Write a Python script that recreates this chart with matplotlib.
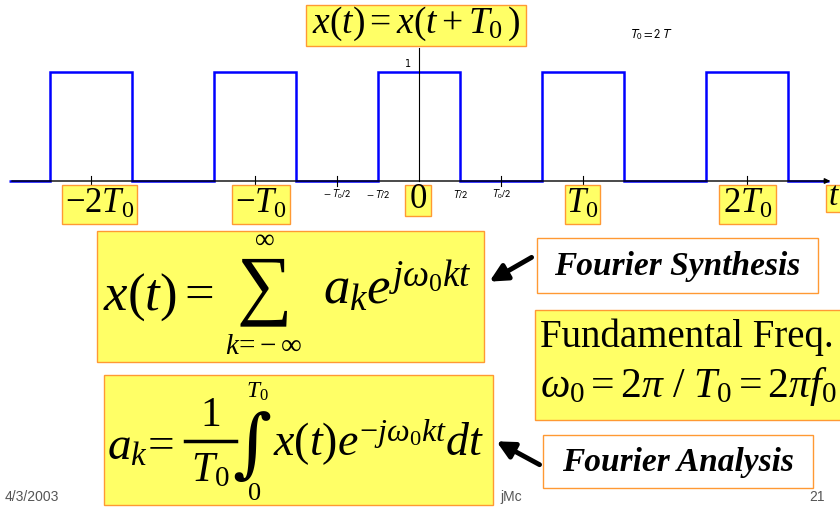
import matplotlib
matplotlib.use('Agg')
import matplotlib.pyplot as plt
from matplotlib.patches import Rectangle, FancyArrowPatch

plt.rcParams['mathtext.fontset'] = 'custom'
plt.rcParams['mathtext.rm'] = 'Liberation Serif'
plt.rcParams['mathtext.it'] = 'Liberation Serif:italic'
plt.rcParams['mathtext.bf'] = 'Liberation Serif:bold'
plt.rcParams['font.family'] = ['Liberation Serif', 'DejaVu Serif']

# square wave, T0 = 2, pulse width T = 1
edges = [-5, -4.5, -3.5, -2.5, -1.5, -0.5, 0.5, 1.5, 2.5, 3.5, 4.5, 5]
levels = [0, 1, 0, 1, 0, 1, 0, 1, 0, 1, 0]

tick_pos = [-4, -2, -1, 1, 2, 4]
big_labels = [(-4, r'$-2T_0$'), (-2, r'$-T_0$'), (0, r'$0$'), (2, r'$T_0$'), (4, r'$2T_0$')]
small_labels = [(-1, r'$-\,T_0/2$'), (-0.5, r'$-\,T/2$'), (0.5, r'$T/2$'), (1, r'$T_0/2$')]

W, H = 840, 511
YEL = '#FFFF66'
ORG = '#FF9933'

fig = plt.figure(figsize=(W / 100, H / 100), dpi=100)
fig.patch.set_facecolor('white')

# axes that map data straight onto the slide pixels
ax = fig.add_axes([0, 0, 1, 1])
ax.axis('off')
ax.set_xlim(-419 / 82, (W - 419) / 82)
ax.set_ylim(-(H - 181) / 109, 181 / 109)


def fx(x):
    return x / W


def fy(y):
    return 1 - y / H


def box(x0, y0, x1, y1, fc=YEL):
    fig.patches.append(Rectangle((fx(x0), fy(y1)), fx(x1 - x0), (y1 - y0) / H,
                                 transform=fig.transFigure, fc=fc, ec=ORG, lw=1.0, zorder=1))


def txt(x, y, s, size, **kw):
    fig.text(fx(x), fy(y), s, fontsize=size, zorder=5, **kw)


def arrow(p0, p1):
    fig.patches.append(FancyArrowPatch((fx(p0[0]), fy(p0[1])), (fx(p1[0]), fy(p1[1])),
                                       transform=fig.transFigure, arrowstyle='-|>',
                                       mutation_scale=26, lw=3.5, color='black', zorder=6))


# axes lines
ax.annotate('', xy=(5.05, 0), xytext=(-5.0, 0),
            arrowprops=dict(arrowstyle='-|>', color='black', lw=1.0, mutation_scale=8))
ax.plot([0, 0], [0, 1.22], color='black', lw=0.8)
for p in tick_pos:
    ax.plot([p, p], [-0.05, 0.05], color='black', lw=0.8)
ax.stairs(levels, edges, color='#0000FF', lw=1.8, baseline=None)
ax.text(-0.13, 1.03, '1', fontsize=7, family='DejaVu Sans', ha='center', va='bottom')
ax.text(2.83, 1.34, r'$T_0 = 2\,T$', fontsize=9, math_fontfamily='stixsans', ha='center', va='center')

for p, s in small_labels:
    ax.text(p, -0.06, s, fontsize=7.5, math_fontfamily='stixsans', ha='center', va='top')

# big tick labels in boxes
lab_boxes = {-4: (62, 137), -2: (232, 290), 0: (405, 431), 2: (565, 600), 4: (719, 776)}
for p, s in big_labels:
    x0, x1 = lab_boxes[p]
    box(x0, 185, x1, 224 if p != 0 else 216)
    txt((x0 + x1) / 2, 204 if p != 0 else 200, s, 25, ha='center', va='center')
box(826, 185, 845, 212)
txt(828, 197, r'$t$', 24, ha='left', va='center')

# periodicity statement
box(306, 5, 526, 46)
txt(416, 24, r'$x(t) = x(t + T_0\,)$', 27, ha='center', va='center')

# synthesis formula
box(97, 231, 484, 362)
txt(103, 297, r'$x(t) =$', 38, ha='left', va='center')
txt(264, 291, '\u2211', 56, ha='center', va='center')
txt(264, 240, r'$\infty$', 20, ha='center', va='center')
txt(264, 347, r'$k\!=\!-\infty$', 21, ha='center', va='center')
txt(323, 288, r'$a_k e^{j\omega_0 k t}$', 38, ha='left', va='center')

box(537, 238, 818, 293, fc='white')
txt(677, 266, 'Fourier Synthesis', 24, ha='center', va='center', style='italic', weight='bold')
arrow((534, 256), (487, 283))

# fundamental frequency
box(535, 310, 845, 420)
txt(540, 337, 'Fundamental Freq.', 28, ha='left', va='center')
txt(540, 386, r'$\omega_0 = 2\pi\ /\ T_0 = 2\pi f_0$', 30, ha='left', va='center')

# analysis formula
box(104, 375, 493, 505)
txt(107, 448, r'$a_k\! =$', 34, ha='left', va='center')
txt(210, 416, r'$1$', 30, ha='center', va='center')
fig.lines.append(plt.Line2D([fx(185), fx(236)], [fy(441), fy(441)], transform=fig.transFigure,
                            color='black', lw=2.5, zorder=5))
txt(210, 471, r'$T_0$', 30, ha='center', va='center')
txt(252, 448, '\u222b', 54, ha='center', va='center', family='DejaVu Serif')
txt(257, 392, r'$T_0$', 17, ha='center', va='center')
txt(254, 494, r'$0$', 19, ha='center', va='center')
txt(273, 442, r'$x(t)e^{-j\omega_0 kt}dt$', 33, ha='left', va='center')

box(543, 435, 813, 488, fc='white')
txt(678, 462, 'Fourier Analysis', 24, ha='center', va='center', style='italic', weight='bold')
arrow((542, 466), (494, 440))

# footer
txt(5, 497, '4/3/2003', 10, family='Liberation Sans', color='#555555', ha='left', va='center')
txt(500, 497, 'jMc', 10, family='Liberation Sans', color='#555555', ha='left', va='center')
txt(825, 497, '21', 10, family='Liberation Sans', color='#555555', ha='right', va='center')

fig.savefig('out.png', dpi=100)
